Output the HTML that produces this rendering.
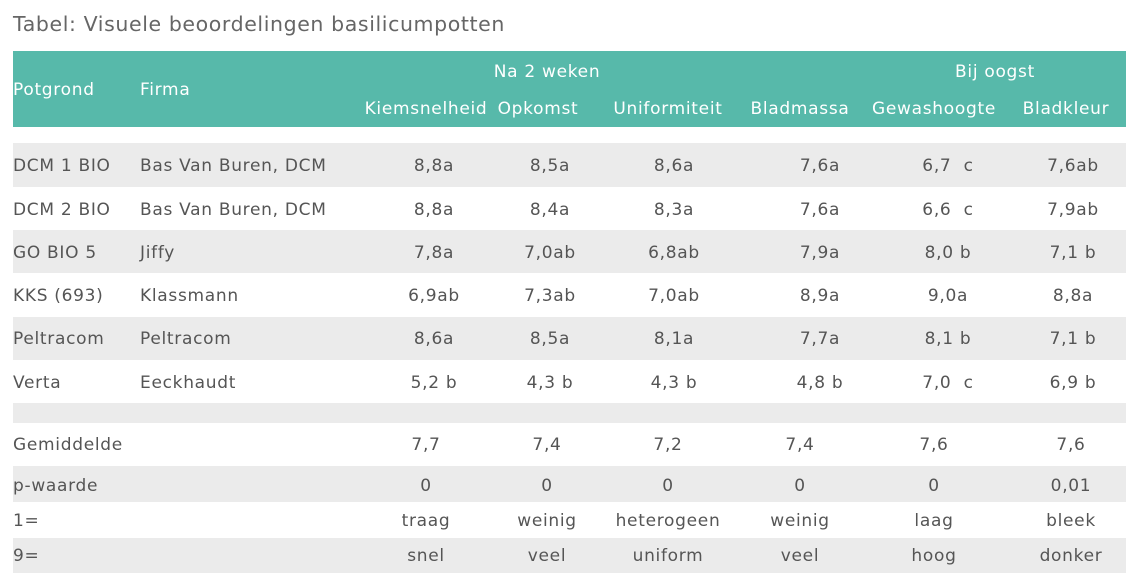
<!DOCTYPE html>
<html><head><meta charset="utf-8"><style>
body{margin:0;width:1139px;height:582px;background:#fff;position:relative;font-family:"DejaVu Sans","Liberation Sans",sans-serif;color:#555;overflow:hidden}
.t{position:absolute;font-size:17px;letter-spacing:0.7px;white-space:pre;line-height:20px}
.c{transform:translateX(-50%)}
.band{position:absolute;left:13px;width:1113px}
.h{color:#fff}
</style></head><body>
<div class="t" style="left:13px;top:12px;font-size:20.5px;letter-spacing:0.6px;line-height:24px;color:#666">Tabel: Visuele beoordelingen basilicumpotten</div>
<div class="band" style="top:51px;height:76px;background:#57b9aa"></div>
<div class="band" style="top:143px;height:44px;background:#ebebeb"></div>
<div class="band" style="top:230px;height:43px;background:#ebebeb"></div>
<div class="band" style="top:317px;height:43px;background:#ebebeb"></div>
<div class="band" style="top:403px;height:20px;background:#ebebeb"></div>
<div class="band" style="top:466px;height:36px;background:#ebebeb"></div>
<div class="band" style="top:538px;height:35px;background:#ebebeb"></div>
<div class="t h" style="left:13px;top:80px">Potgrond</div>
<div class="t h" style="left:140px;top:80px">Firma</div>
<div class="t h c" style="left:547px;top:62px">Na 2 weken</div>
<div class="t h c" style="left:995px;top:62px">Bij oogst</div>
<div class="t h c" style="left:426px;top:99px">Kiemsnelheid</div>
<div class="t h c" style="left:538px;top:99px">Opkomst</div>
<div class="t h c" style="left:668px;top:99px">Uniformiteit</div>
<div class="t h c" style="left:800px;top:99px">Bladmassa</div>
<div class="t h c" style="left:934px;top:99px">Gewashoogte</div>
<div class="t h c" style="left:1066px;top:99px">Bladkleur</div>
<div id="rows"></div>
<script>
var xs=[434,550,674,820,948,1073];
var rows=[
[156,"DCM 1 BIO","Bas Van Buren, DCM",["8,8a","8,5a","8,6a","7,6a","6,7  c","7,6ab"]],
[200,"DCM 2 BIO","Bas Van Buren, DCM",["8,8a","8,4a","8,3a","7,6a","6,6  c","7,9ab"]],
[243,"GO BIO 5","Jiffy",["7,8a","7,0ab","6,8ab","7,9a","8,0 b","7,1 b"]],
[286,"KKS (693)","Klassmann",["6,9ab","7,3ab","7,0ab","8,9a","9,0a","8,8a"]],
[329,"Peltracom","Peltracom",["8,6a","8,5a","8,1a","7,7a","8,1 b","7,1 b"]],
[373,"Verta","Eeckhaudt",["5,2 b","4,3 b","4,3 b","4,8 b","7,0  c","6,9 b"]]];
var xs2=[426,547,668,800,934,1071];
var rows2=[[435,"Gemiddelde",["7,7","7,4","7,2","7,4","7,6","7,6"]],
[476,"p-waarde",["0","0","0","0","0","0,01"]],
[511,"1=",["traag","weinig","heterogeen","weinig","laag","bleek"]],
[546,"9=",["snel","veel","uniform","veel","hoog","donker"]]];
var h="";
rows.forEach(function(r){h+='<div class="t" style="left:13px;top:'+r[0]+'px">'+r[1]+'</div><div class="t" style="left:140px;top:'+r[0]+'px">'+r[2]+'</div>';
r[3].forEach(function(v,i){h+='<div class="t c" style="left:'+xs[i]+'px;top:'+r[0]+'px">'+v+'</div>';});});
rows2.forEach(function(r){h+='<div class="t" style="left:13px;top:'+r[0]+'px">'+r[1]+'</div>';
r[2].forEach(function(v,i){h+='<div class="t c" style="left:'+xs2[i]+'px;top:'+r[0]+'px">'+v+'</div>';});});
document.getElementById("rows").innerHTML=h;
</script>
</body></html>
